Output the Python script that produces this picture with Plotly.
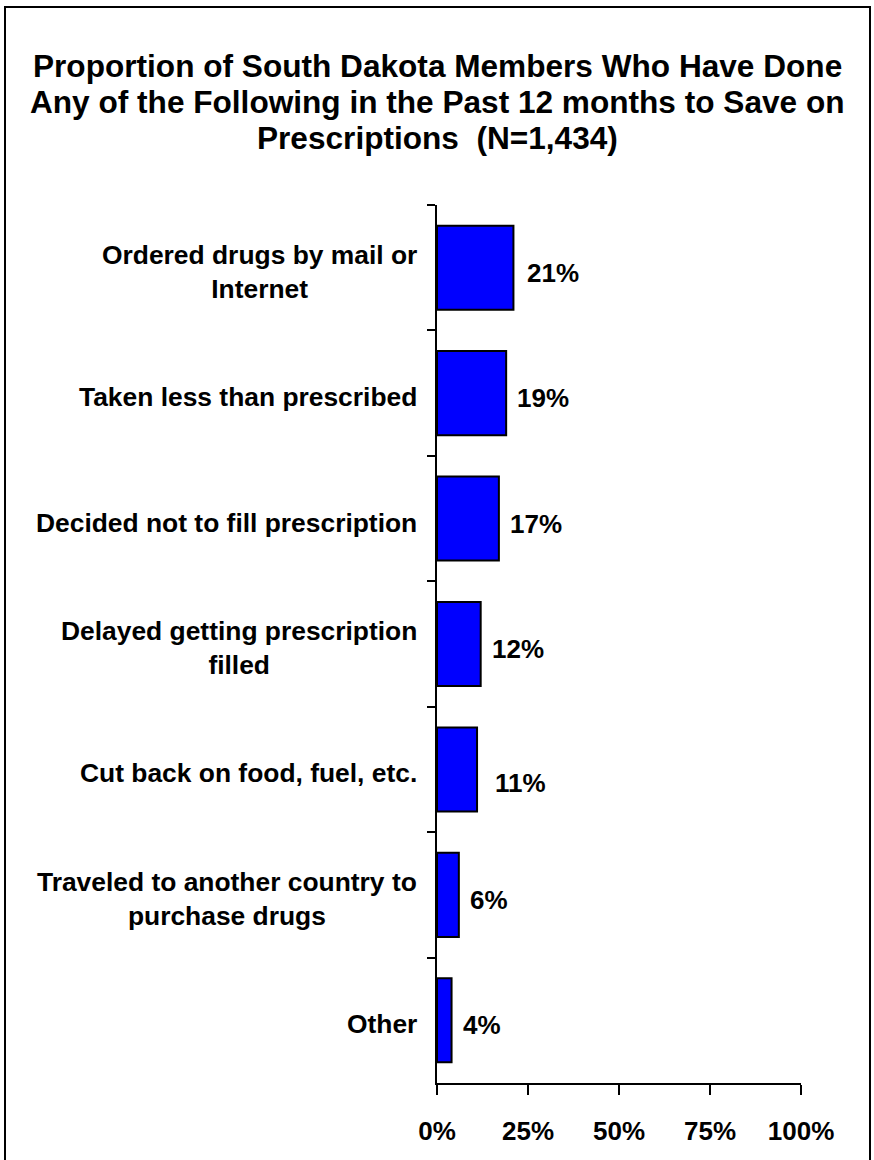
import plotly.graph_objects as go

categories = [
    "Ordered drugs by mail or<br>Internet",
    "Taken less than prescribed",
    "Decided not to fill prescription",
    "Delayed getting prescription<br>filled",
    "Cut back on food, fuel, etc.",
    "Traveled to another country to<br>purchase drugs",
    "Other",
]
values = [21, 19, 17, 12, 11, 6, 4]
value_labels = ["21%", "19%", "17%", "12%", "11%", "6%", "4%"]
x_tickvals = [0, 25, 50, 75, 100]
x_ticktext = ["0%", "25%", "50%", "75%", "100%"]
title_lines = [
    "Proportion of South Dakota Members Who Have Done",
    "Any of the Following in the Past 12 months to Save on",
    "Prescriptions  (N=1,434)",
]

# layout geometry (pixels)
W, H = 874, 1160
L, R, T, B = 437, 73, 205, 77
PW, PH = W - L - R, H - T - B

def px_x(x):
    return (x - L) / PW

def px_y(y):
    return (H - B - y) / PH

FONT = "Liberation Sans, Arial, Helvetica, sans-serif"

# small per-label nudges (pixels) to mimic the original placement
label_nudge = {"11%": (7, -9), "21%": (3, 0)}

fig = go.Figure()
fig.add_trace(go.Bar(
    x=values,
    y=categories,
    orientation="h",
    width=0.67,
    marker=dict(color="#0000FF", line=dict(color="black", width=2)),
    hoverinfo="skip",
))

annotations = []
for cat in categories:
    annotations.append(dict(
        x=0, y=cat, xref="x", yref="y",
        text=cat, showarrow=False,
        xanchor="right", yanchor="middle", align="center",
        xshift=-18, yshift=-4,
        font=dict(family=FONT, size=26.4, color="black", weight="bold"),
    ))
for cat, v, lab in zip(categories, values, value_labels):
    dx, dy = label_nudge.get(lab, (0, 0))
    annotations.append(dict(
        x=v, y=cat, xref="x", yref="y",
        text=lab, showarrow=False,
        xanchor="left", yanchor="middle",
        xshift=9 + dx, yshift=-5 + dy,
        font=dict(family=FONT, size=26, color="black", weight="bold"),
    ))
title_centers = [66, 102, 138]
for line, cy in zip(title_lines, title_centers):
    annotations.append(dict(
        x=px_x(W / 2), y=px_y(cy), xref="paper", yref="paper",
        text=line, showarrow=False,
        xanchor="center", yanchor="middle",
        font=dict(family=FONT, size=31.6, color="black", weight="bold"),
    ))

fig.update_layout(
    width=W, height=H,
    margin=dict(l=L, r=R, t=T, b=B, pad=0),
    paper_bgcolor="white", plot_bgcolor="white",
    showlegend=False,
    annotations=annotations,
    shapes=[dict(
        type="rect", xref="paper", yref="paper",
        x0=px_x(5), x1=px_x(870), y0=px_y(1175), y1=px_y(7),
        line=dict(color="black", width=2), fillcolor="rgba(0,0,0,0)",
        layer="above",
    )],
)
fig.update_xaxes(
    range=[0, 100], tickvals=x_tickvals, ticktext=x_ticktext,
    showline=True, linecolor="black", linewidth=2,
    ticks="outside", ticklen=10, tickwidth=2, tickcolor="black",
    showgrid=False, zeroline=False,
    tickfont=dict(family=FONT, size=26, color="black", weight="bold"),
    ticklabelstandoff=14,
)
fig.update_yaxes(
    type="category", categoryorder="array", categoryarray=categories,
    autorange="reversed",
    showline=True, linecolor="black", linewidth=2,
    ticks="outside", ticklen=8, tickwidth=2, tickcolor="black",
    tickson="boundaries", showticklabels=False,
    showgrid=False, zeroline=False,
)

fig.write_html(
    "out.html",
    config={"displayModeBar": False, "staticPlot": True},
    post_script="document.body.style.margin='0';document.body.style.overflow='hidden';",
)
